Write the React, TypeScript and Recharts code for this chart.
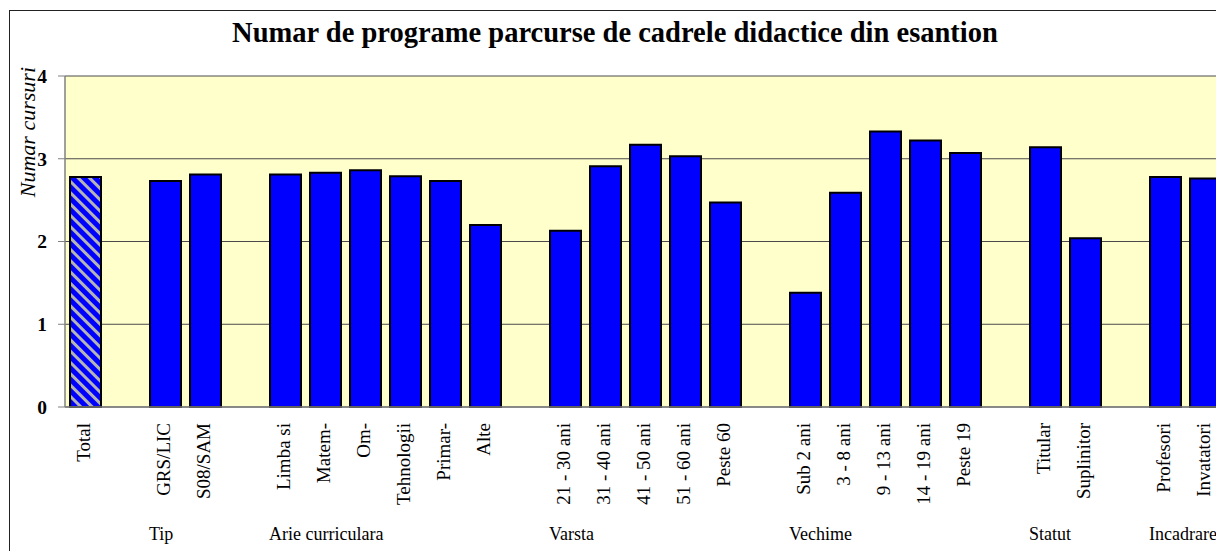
import { Bar, BarChart, CartesianGrid, Cell, XAxis, YAxis } from 'recharts';

// the chart fills the window edge to edge, like the screenshot it copies
if (typeof document !== 'undefined') document.body.style.margin = '0';

const serif = '"Liberation Serif", "Times New Roman", serif';

const chartTitle = 'Numar de programe parcurse de cadrele didactice din esantion';
const yTitle = 'Numar cursuri';
const yTicks = [0, 1, 2, 3, 4];

const totalLabels = ['Total'];
const totalValues = [2.78];

const tipLabels = ['GRS/LIC', 'S08/SAM'];
const tipValues = [2.73, 2.81];

const arieLabels = ['Limba si', 'Matem-', 'Om-', 'Tehnologii', 'Primar-', 'Alte'];
const arieValues = [2.81, 2.83, 2.86, 2.79, 2.73, 2.2];

const varstaLabels = ['21 - 30 ani', '31 - 40 ani', '41 - 50 ani', '51 - 60 ani', 'Peste 60'];
const varstaValues = [2.13, 2.91, 3.17, 3.03, 2.47];

const vechimeLabels = ['Sub 2 ani', '3 - 8 ani', '9 - 13 ani', '14 - 19 ani', 'Peste 19'];
const vechimeValues = [1.38, 2.59, 3.33, 3.22, 3.07];

const statutLabels = ['Titular', 'Suplinitor'];
const statutValues = [3.14, 2.04];

const incadrareLabels = ['Profesori', 'Invatatori'];
const incadrareValues = [2.78, 2.76];

const groupNames = ['', 'Tip', 'Arie curriculara', 'Varsta', 'Vechime', 'Statut', 'Incadrare'];
const groupLabels = [totalLabels, tipLabels, arieLabels, varstaLabels, vechimeLabels, statutLabels, incadrareLabels];
const groupValues = [totalValues, tipValues, arieValues, varstaValues, vechimeValues, statutValues, incadrareValues];

type Row = { key: string; label: string; group: string; value: number | null; total: boolean };

// one empty slot between groups, like the gaps in the original sheet
const rows: Row[] = [];
groupNames.forEach((g, gi) => {
  if (gi > 0) rows.push({ key: 'gap' + gi, label: '', group: '', value: null, total: false });
  groupLabels[gi].forEach((l, i) => {
    rows.push({
      key: 'c' + gi + '_' + i,
      label: l,
      group: i === 0 ? g : '',
      value: groupValues[gi][i],
      total: gi === 0,
    });
  });
});

const CategoryTick = (props: any) => {
  const { x, y, payload } = props;
  const row = rows[payload.index];
  if (!row) return null;
  return (
    <g>
      {row.label && (
        <text
          x={x}
          y={y}
          dy={5}
          transform={`rotate(-90, ${x}, ${y})`}
          textAnchor="end"
          fontFamily={serif}
          fontSize={19}
          fill="#000"
        >
          {row.label}
        </text>
      )}
      {row.group && (
        <text x={x - 16} y={y + 117} textAnchor="start" fontFamily={serif} fontSize={18} fill="#000">
          {row.group}
        </text>
      )}
    </g>
  );
};

const YTitle = (props: any) => {
  const vb = props.viewBox;
  return (
    <text
      x={vb.x + 27}
      y={vb.y - 9}
      transform={`rotate(-90, ${vb.x + 27}, ${vb.y - 9})`}
      textAnchor="end"
      fontFamily={serif}
      fontStyle="italic"
      fontSize={22}
      fill="#000"
    >
      {yTitle}
    </text>
  );
};

export default function App() {
  return (
    <div style={{ position: 'relative', width: 1216, height: 551, overflow: 'hidden', background: '#fff' }}>
      <div
        style={{
          position: 'absolute',
          left: 9,
          top: 10,
          width: 2000,
          height: 2000,
          border: '1px solid #222',
        }}
      />
      <svg style={{ position: 'absolute', left: 8, top: 8 }} width={1216} height={60}>
        <text x={607} y={34} textAnchor="middle" fontFamily={serif} fontWeight="bold" fontSize={28.5} fill="#000">
          {chartTitle}
        </text>
      </svg>
      <div style={{ position: 'absolute', left: 8, top: 8 }}>
        <BarChart
          width={1230}
          height={560}
          data={rows}
          margin={{ top: 68, right: 13, left: 0, bottom: 0 }}
          barSize={31}
        >
          <defs>
            <pattern id="hatch" patternUnits="userSpaceOnUse" width={8} height={8} patternTransform="rotate(-45)">
              <rect width={8} height={8} fill="#0000FF" />
              <rect width={3} height={8} fill="#B4B4B4" />
            </pattern>
          </defs>
          <CartesianGrid vertical={false} fill="#FFFFCC" stroke="#4a4a4a" strokeWidth={1} />
          <XAxis
            dataKey="key"
            interval={0}
            height={161}
            tickLine={false}
            tickSize={6}
            tickMargin={10}
            axisLine={{ stroke: '#808080', strokeWidth: 1.5 }}
            tick={<CategoryTick />}
          />
          <YAxis
            width={57}
            domain={[0, 4]}
            ticks={yTicks}
            interval={0}
            tickSize={7}
            tickMargin={11}
            axisLine={{ stroke: '#808080', strokeWidth: 1.5 }}
            tickLine={{ stroke: '#808080' }}
            tick={{ fontFamily: serif, fontWeight: 'bold', fontSize: 19.5, fill: '#000' }}
            label={<YTitle />}
          />
          <Bar dataKey="value" fill="#0000FF" stroke="#000" strokeWidth={2} isAnimationActive={false}>
            {rows.map((r) => (
              <Cell key={r.key} fill={r.total ? 'url(#hatch)' : '#0000FF'} />
            ))}
          </Bar>
        </BarChart>
      </div>
    </div>
  );
}
